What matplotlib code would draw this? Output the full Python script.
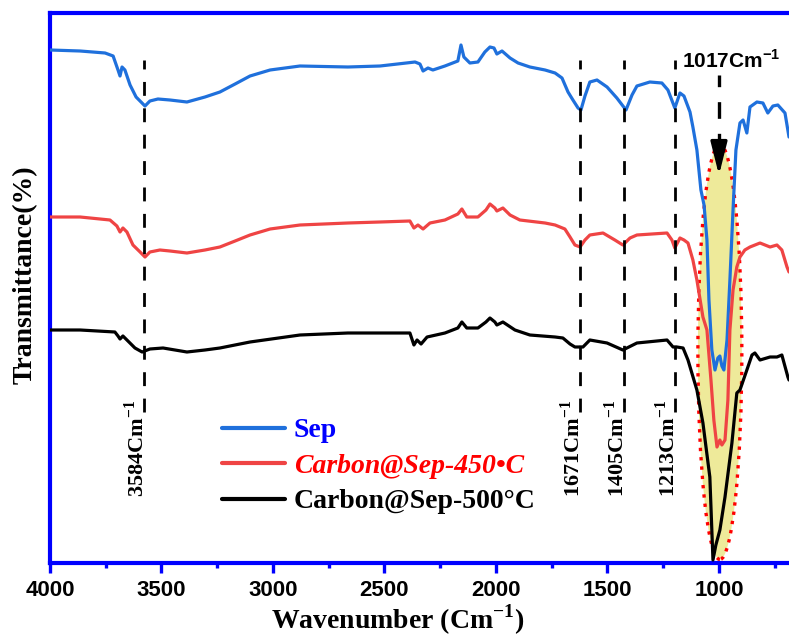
import matplotlib
matplotlib.use("Agg")
import matplotlib.pyplot as plt
from matplotlib.patches import Ellipse

# =========================
# Fonts
# =========================
plt.rcParams["font.family"] = ["Liberation Serif", "DejaVu Serif"]
plt.rcParams["mathtext.fontset"] = "custom"
plt.rcParams["mathtext.rm"] = "Liberation Serif:bold"
plt.rcParams["mathtext.bf"] = "Liberation Serif:bold"
plt.rcParams["mathtext.sf"] = "Liberation Sans:bold"

# =========================
# Data (transmittance in arbitrary units)
# =========================
sep_wn = [4000, 3865, 3753, 3717, 3695, 3686, 3677, 3664, 3641, 3614, 3574, 3552, 3516,
          3462, 3386, 3305, 3238, 3170, 3103, 3013, 2879, 2664, 2520, 2363, 2341, 2327,
          2305, 2283, 2229, 2171, 2157, 2144, 2117, 2081, 2050, 2027, 2009, 1996, 1973,
          1937, 1901, 1848, 1780, 1735, 1704, 1677, 1655, 1632, 1619, 1601, 1579, 1547,
          1502, 1458, 1417, 1390, 1368, 1310, 1256, 1229, 1198, 1175, 1157, 1130, 1117,
          1099, 1081, 1067, 1054, 1045, 1032, 1018, 1005, 996, 987, 978, 964, 951, 937,
          924, 906, 892, 875, 861, 830, 803, 781, 758, 736, 704, 686]
sep_t = [513, 512, 510, 507, 493, 487, 496, 493, 478, 466, 457, 462, 464,
         463, 461, 466, 471, 479, 487, 493, 497, 496, 497, 501, 499, 492,
         495, 493, 497, 502, 518, 506, 500, 501, 511, 516, 515, 509, 512,
         505, 500, 496, 493, 490, 485, 471, 463, 455, 453, 467, 481, 483,
         476, 465, 453, 468, 477, 481, 480, 473, 455, 470, 467, 451, 436,
         413, 373, 358, 323, 263, 213, 193, 205, 207, 197, 193, 223, 283, 353,
         413, 440, 443, 430, 456, 461, 460, 450, 457, 458, 450, 426]

c450_wn = [4000, 3865, 3731, 3700, 3686, 3673, 3655, 3628, 3596, 3574, 3552, 3507, 3462,
           3386, 3305, 3238, 3170, 3103, 3013, 2879, 2664, 2520, 2386, 2368, 2350, 2327,
           2296, 2229, 2171, 2153, 2131, 2081, 2045, 2027, 2005, 1996, 1969, 1937, 1893,
           1780, 1735, 1691, 1668, 1646, 1623, 1601, 1579, 1520, 1467, 1431, 1399, 1368,
           1233, 1211, 1198, 1175, 1157, 1139, 1117, 1099, 1072, 1054, 1036, 1023, 1009,
           996, 987, 973, 960, 951, 937, 920, 906, 884, 861, 816, 771, 740, 718, 695, 686]
c450_t = [346, 346, 343, 337, 331, 335, 331, 318, 311, 306, 311, 313, 312,
          310, 313, 316, 322, 328, 334, 338, 340, 341, 342, 335, 338, 334,
          340, 343, 349, 354, 346, 346, 353, 359, 355, 352, 355, 348, 343,
          340, 338, 334, 326, 318, 316, 323, 328, 330, 323, 318, 325, 328,
          330, 323, 315, 325, 323, 320, 303, 283, 246, 233, 183, 143, 116,
          123, 118, 123, 163, 233, 273, 296, 306, 313, 316, 320, 316, 318, 313, 296, 291]

c500_wn = [4000, 3865, 3709, 3695, 3686, 3673, 3655, 3619, 3587, 3552, 3493, 3386, 3305,
           3238, 3103, 2879, 2664, 2386, 2368, 2354, 2336, 2309, 2229, 2171, 2153, 2131,
           2081, 2045, 2027, 2005, 1996, 1969, 1915, 1848, 1735, 1700, 1668, 1646, 1610,
           1579, 1502, 1431, 1368, 1233, 1206, 1189, 1161, 1139, 1099, 1072, 1041, 1027,
           1014, 996, 973, 942, 920, 906, 875, 852, 839, 816, 771, 740, 718, 691, 686]
c500_t = [233, 233, 231, 227, 224, 227, 223, 215, 211, 214, 215, 211, 213,
          215, 221, 228, 230, 230, 218, 223, 219, 226, 230, 235, 241, 235,
          235, 241, 245, 241, 238, 241, 233, 228, 226, 225, 219, 216, 216,
          223, 220, 213, 220, 223, 216, 216, 215, 203, 173, 140, 86, 3,
          18, 33, 66, 120, 170, 173, 193, 208, 210, 203, 206, 206, 208, 186, 183]

series_labels = ["Sep", "Carbon@Sep-450\u2022C", "Carbon@Sep-500\u00b0C"]

# peak markers: line position, label text
peak_pos = [3578, 1623, 1426, 1198]
peak_labels = ["3584", "1671", "1405", "1213"]
main_peak_pos = 1000
main_peak_label = "1017"

xticks = [4000, 3500, 3000, 2500, 2000, 1500, 1000]

# =========================
# Figure
# =========================
fig = plt.figure(figsize=(7.89, 6.36), dpi=100)
ax = fig.add_axes([50 / 789, 73 / 636, 739 / 789, 550 / 636])

# highlighted band around the main Si-O peak
ell = Ellipse((996, 211), width=197, height=415, facecolor="#EEEA9A",
              edgecolor="red", linestyle=(0, (1, 1.8)), linewidth=2.4, zorder=1)
ax.add_patch(ell)

line_kw = dict(lw=2.3, solid_joinstyle="round", solid_capstyle="round", zorder=3)
ax.plot(sep_wn, sep_t, color="#1F70DC", label=series_labels[0], **line_kw)
ax.plot(c450_wn, c450_t, color="#EF4444", label=series_labels[1], **line_kw)
ax.plot(c500_wn, c500_t, color="black", label=series_labels[2], **line_kw)

# dashed markers
for pos, lab in zip(peak_pos, peak_labels):
    ax.plot([pos, pos], [151, 503], color="black", lw=2, dashes=(5, 4.5), zorder=4)
    ax.text(pos - 22, 163, lab + r"Cm$^{\mathrm{-1}}$", rotation=90, ha="right", va="top",
            fontsize=16, fontweight="bold", zorder=5)

ax.plot([main_peak_pos, main_peak_pos], [413, 488], color="black", lw=2.4,
        dashes=(5, 4.5), zorder=4)
ax.annotate("", xy=(main_peak_pos, 385), xytext=(main_peak_pos, 414),
            arrowprops=dict(arrowstyle="-|>,head_length=1.0,head_width=0.25",
                            mutation_scale=20, color="black", lw=2.4), zorder=5)
ax.text(1166, 495, main_peak_label + r"Cm$^{\mathsf{-1}}$", ha="left", va="baseline",
        fontsize=15, family="Liberation Sans", fontweight="bold", zorder=5)

# axes styling
ax.set_xlim(4000, 686)
ax.set_ylim(0, 550)
ax.set_xticks(xticks)
ax.set_xticks([3750, 3250, 2750, 2250, 1750, 1250, 750], minor=True)
ax.set_yticks([])
for side in ["left", "top", "bottom"]:
    ax.spines[side].set_color("#0000FF")
    ax.spines[side].set_linewidth(3)
ax.spines["right"].set_visible(False)
ax.tick_params(axis="x", which="major", direction="out", length=7.5, width=2.4,
               color="#0000FF", pad=5)
ax.tick_params(axis="x", which="minor", direction="out", length=3.8, width=2.4,
               color="#0000FF")
for t in ax.get_xticklabels():
    t.set_family("Liberation Sans")
    t.set_fontweight("bold")
    t.set_fontsize(16)

fig.text(398 / 789, 1 - 629 / 636, r"Wavenumber (Cm$^{\mathbf{-1}}$)", ha="center",
         va="baseline", fontsize=20, fontweight="bold")
fig.text(25 / 789, 1 - 275 / 636, "Transmittance(%)", rotation=90, ha="center",
         va="center", fontsize=20, fontweight="bold")

# legend
leg = ax.legend(loc="center left", bbox_to_anchor=(0.233, 0.176), frameon=False,
                fontsize=20, handlelength=2.27, handletextpad=0.3, labelspacing=0.36,
                borderpad=0, borderaxespad=0)
texts = leg.get_texts()
texts[0].set_color("#0000FF")
texts[0].set_fontweight("bold")
texts[1].set_color("red")
texts[1].set_fontweight("bold")
texts[1].set_fontstyle("italic")
texts[2].set_color("black")
texts[2].set_fontweight("bold")
for line in leg.get_lines():
    line.set_linewidth(3)

fig.savefig("out.png", dpi=100)
